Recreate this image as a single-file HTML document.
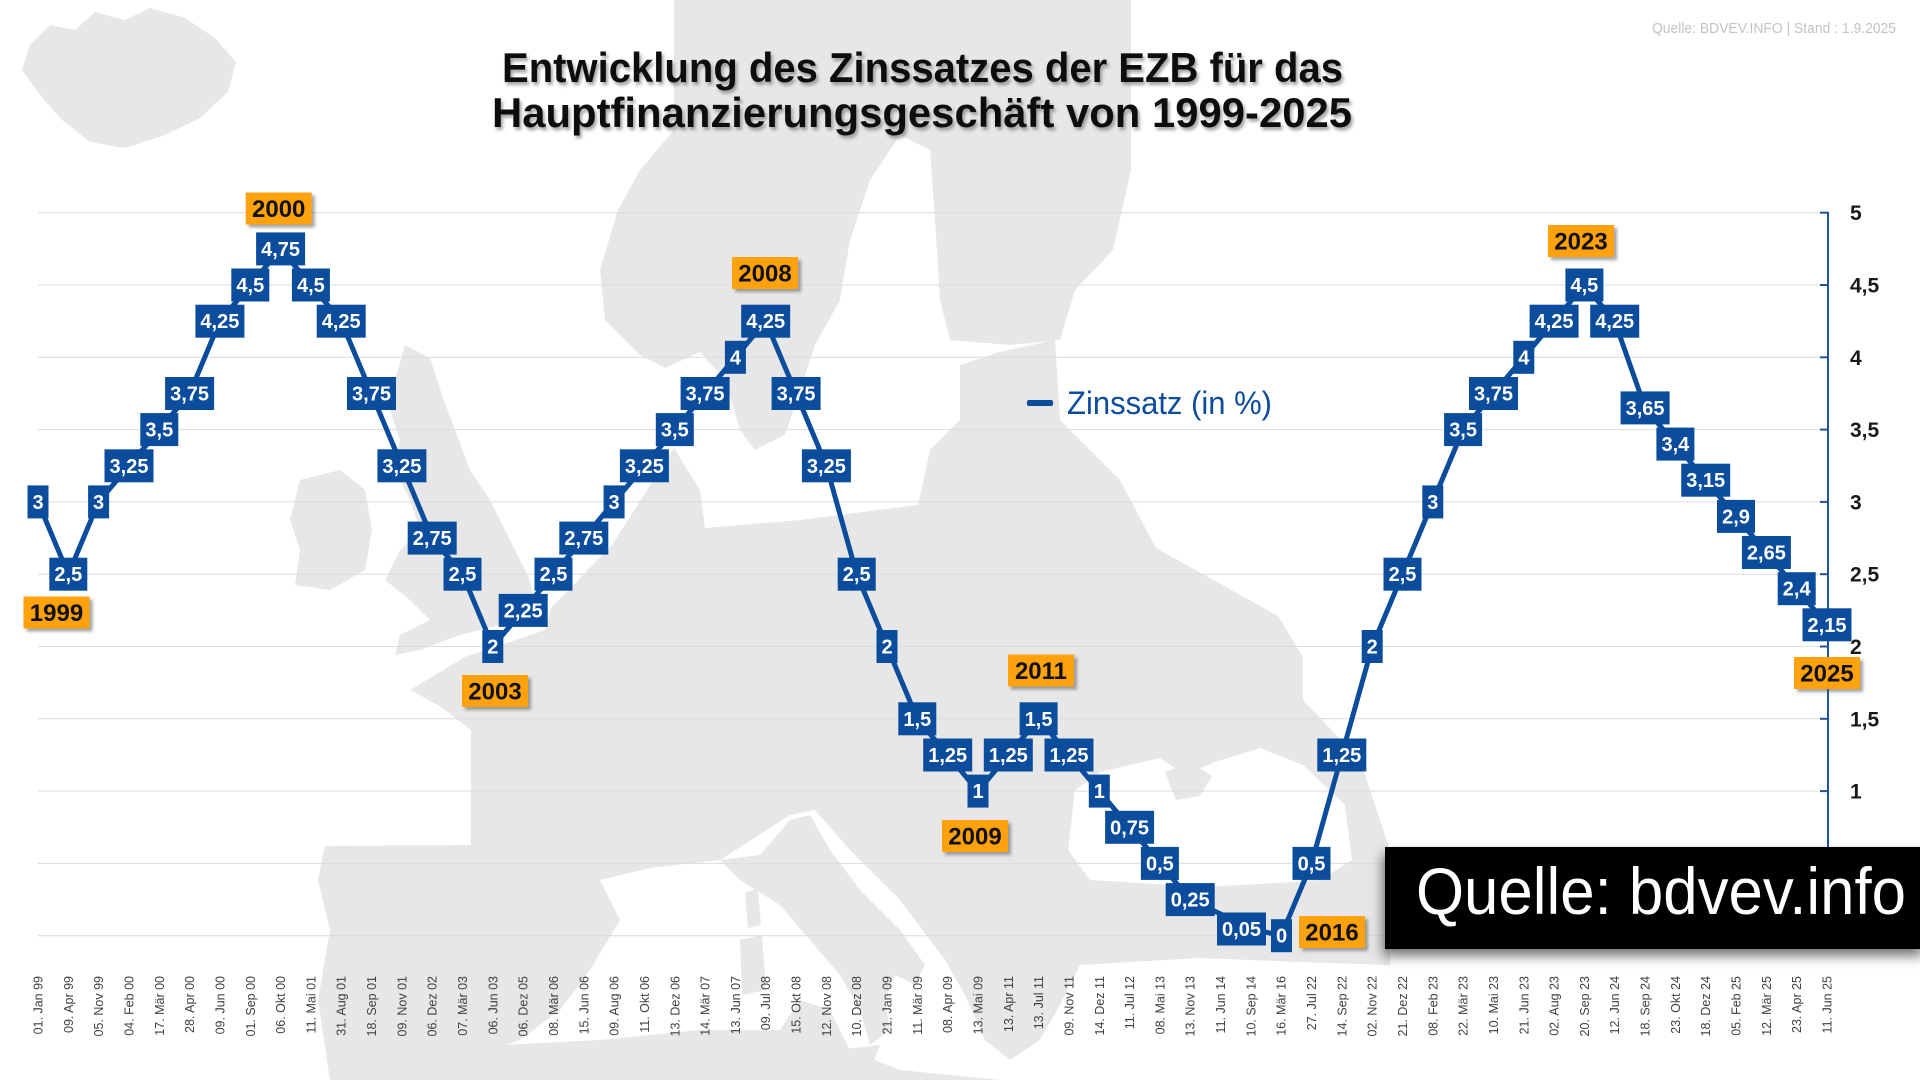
<!DOCTYPE html>
<html><head><meta charset="utf-8"><style>
html,body{margin:0;padding:0;background:#fff;}
svg{display:block;}
.b{fill:#0b4c9c;}
.t{fill:#fff;font:bold 20px "Liberation Sans",sans-serif;text-anchor:middle;}
.o{fill:#ffa20c;}
.ot{fill:#111;font:bold 24px "Liberation Sans",sans-serif;text-anchor:middle;}
.xl{fill:#404040;font:12.5px "Liberation Sans",sans-serif;text-anchor:end;}
.yl{fill:#1a1a1a;font:bold 21px "Liberation Sans",sans-serif;}
.g{stroke:#dcdcdc;stroke-width:1;}
.m{fill:#e7e7e7;}
.w{fill:#fff;}
</style></head><body>
<svg width="1920" height="1080" viewBox="0 0 1920 1080" xmlns="http://www.w3.org/2000/svg">
<defs>
<filter id="sh" x="-20%" y="-20%" width="140%" height="160%"><feDropShadow dx="3" dy="3" stdDeviation="1.5" flood-color="#555" flood-opacity="0.55"/></filter>
<filter id="tsh" x="-5%" y="-20%" width="110%" height="150%"><feDropShadow dx="2" dy="3" stdDeviation="1.5" flood-color="#666" flood-opacity="0.6"/></filter>
<filter id="bsh" x="-10%" y="-30%" width="120%" height="170%"><feDropShadow dx="-2" dy="7" stdDeviation="6" flood-color="#000" flood-opacity="0.55"/></filter>
</defs>
<rect width="1920" height="1080" fill="#fff"/>
<!-- map -->
<g>
<polygon class="m" points="30,45 50,25 75,30 95,12 125,20 150,8 185,18 215,38 236,62 228,92 200,118 165,135 125,148 90,142 62,120 40,95 22,70"/>
<polygon class="m" points="674,0 674,130 640,170 618,210 600,270 605,320 640,355 665,368 700,352 725,380 740,430 755,450 785,435 800,390 815,345 840,300 850,240 870,180 900,135 930,150 935,220 940,300 950,340 1010,345 1060,340 1075,290 1113,250 1131,170 1131,0"/>
<polygon class="m" points="674,448 700,490 705,528 800,520 918,505 930,450 960,420 960,365 1000,352 1055,340 1060,420 1090,450 1120,480 1156,548 1278,616 1303,657 1303,700 1360,760 1390,850 1390,1080 330,1080 318,1000 330,930 318,880 325,846 471,845 471,730 440,706 410,690 465,657 545,630 551,608 612,545 660,470"/>
<polygon class="w" points="1075,790 1100,772 1160,758 1185,775 1215,762 1260,748 1303,765 1345,805 1352,860 1320,880 1260,884 1200,887 1140,883 1090,880 1068,850"/>
<polygon class="m" points="1165,772 1190,762 1212,776 1200,796 1176,800"/>
<polygon class="w" points="460,1062 520,1040 560,1010 590,970 620,920 600,880 650,868 720,860 790,815 815,810 850,850 900,900 945,960 965,995 985,1040 1010,1060 1040,1040 1060,1005 1080,965 1200,958 1300,962 1390,965 1390,1080 460,1080"/>
<polygon class="m" points="404,1080 420,1050 500,1045 600,1040 700,1030 780,1030 800,1000 830,1010 850,1050 900,1070 1000,1080"/>
<polygon class="m" points="720,860 760,855 790,820 810,815 830,850 860,890 900,930 925,965 915,985 895,975 885,1000 890,1030 870,1045 860,1010 840,975 810,940 780,905 740,880"/>
<polygon class="m" points="835,1050 880,1045 870,1072 840,1068"/>
<polygon class="m" points="740,940 762,935 766,990 742,995"/>
<polygon class="m" points="745,893 758,888 761,925 748,928"/>
<polygon class="m" points="405,345 430,358 442,395 455,430 470,470 490,500 510,540 530,580 535,610 500,625 460,635 420,650 395,655 400,635 430,620 410,600 385,580 400,550 420,530 410,500 395,470 400,440 390,410 395,380"/>
<polygon class="m" points="300,480 340,470 365,490 372,530 365,570 330,590 295,585 300,550 290,520"/>
</g>
<!-- title -->
<g filter="url(#tsh)" style="font:bold 42px 'Liberation Sans',sans-serif;fill:#111;">
<text x="502" y="82" textLength="841" lengthAdjust="spacingAndGlyphs">Entwicklung des Zinssatzes der EZB für das</text>
<text x="492" y="127" textLength="860" lengthAdjust="spacingAndGlyphs">Hauptfinanzierungsgeschäft von 1999-2025</text>
</g>
<text x="1652" y="33" textLength="244" lengthAdjust="spacingAndGlyphs" style="font:15px 'Liberation Sans',sans-serif;fill:#c3c3c3;">Quelle: BDVEV.INFO | Stand : 1.9.2025</text>
<!-- grid -->
<g class="g">
<line x1="38" x2="1828" y1="212.7" y2="212.7"/>
<line x1="38" x2="1828" y1="285" y2="285"/>
<line x1="38" x2="1828" y1="357.3" y2="357.3"/>
<line x1="38" x2="1828" y1="429.6" y2="429.6"/>
<line x1="38" x2="1828" y1="501.9" y2="501.9"/>
<line x1="38" x2="1828" y1="574.2" y2="574.2"/>
<line x1="38" x2="1828" y1="646.5" y2="646.5"/>
<line x1="38" x2="1828" y1="718.8" y2="718.8"/>
<line x1="38" x2="1828" y1="791.1" y2="791.1"/>
<line x1="38" x2="1828" y1="863.4" y2="863.4"/>
<line x1="38" x2="1828" y1="935.7" y2="935.7"/>
</g>
<!-- right axis -->
<g stroke="#1f5596" stroke-width="2">
<line x1="1828" x2="1828" y1="211.7" y2="936.7"/>
<line x1="1820" x2="1828" y1="212.7" y2="212.7"/>
<line x1="1820" x2="1828" y1="285" y2="285"/>
<line x1="1820" x2="1828" y1="357.3" y2="357.3"/>
<line x1="1820" x2="1828" y1="429.6" y2="429.6"/>
<line x1="1820" x2="1828" y1="501.9" y2="501.9"/>
<line x1="1820" x2="1828" y1="574.2" y2="574.2"/>
<line x1="1820" x2="1828" y1="646.5" y2="646.5"/>
<line x1="1820" x2="1828" y1="718.8" y2="718.8"/>
<line x1="1820" x2="1828" y1="791.1" y2="791.1"/>
<line x1="1820" x2="1828" y1="863.4" y2="863.4"/>
<line x1="1820" x2="1828" y1="935.7" y2="935.7"/>
</g>
<g class="yl">
<text x="1850" y="220.2">5</text>
<text x="1850" y="292.5">4,5</text>
<text x="1850" y="364.8">4</text>
<text x="1850" y="437.1">3,5</text>
<text x="1850" y="509.4">3</text>
<text x="1850" y="581.7">2,5</text>
<text x="1850" y="654">2</text>
<text x="1850" y="726.3">1,5</text>
<text x="1850" y="798.6">1</text>
<text x="1850" y="870.9">0,5</text>
<text x="1850" y="943.2">0</text>
</g>
<!-- legend -->
<rect x="1027" y="400" width="26" height="6" rx="2" fill="#0b4c9c"/>
<text x="1067" y="414" textLength="205" lengthAdjust="spacingAndGlyphs" style="font:32px 'Liberation Sans',sans-serif;fill:#0b4c9c;">Zinssatz (in %)</text>
<!-- line -->
<polyline fill="none" stroke="#0b4c9c" stroke-width="5" stroke-linejoin="round" points="38,501.9 68.3,574.2 98.6,501.9 129,465.8 159.3,429.6 189.6,393.5 219.9,321.2 250.3,285 280.6,248.9 310.9,285 341.2,321.2 371.5,393.5 401.9,465.8 432.2,538.1 462.5,574.2 492.8,646.5 523.2,610.4 553.5,574.2 583.8,538.1 614.1,501.9 644.4,465.8 674.8,429.6 705.1,393.5 735.4,357.3 765.7,321.2 796.1,393.5 826.4,465.8 856.7,574.2 887,646.5 917.3,718.8 947.7,755 978,791.1 1008.3,755 1038.6,718.8 1069,755 1099.3,791.1 1129.6,827.3 1159.9,863.4 1190.2,899.6 1220.6,914 1250.9,928.5 1281.2,935.7 1311.5,863.4 1341.8,755 1372.2,646.5 1402.5,574.2 1432.8,501.9 1463.1,429.6 1493.5,393.5 1523.8,357.3 1554.1,321.2 1584.4,285 1614.7,321.2 1645.1,407.9 1675.4,444.1 1705.7,480.2 1736,516.4 1766.4,552.5 1796.7,588.7 1827,624.8"/>
<!-- data labels -->
<g>
<rect class="b" x="27.5" y="485.4" width="21" height="33"/><text class="t" x="38" y="508.9">3</text>
<rect class="b" x="49.3" y="557.7" width="38" height="33"/><text class="t" x="68.3" y="581.2">2,5</text>
<rect class="b" x="88.1" y="485.4" width="21" height="33"/><text class="t" x="98.6" y="508.9">3</text>
<rect class="b" x="104.5" y="449.3" width="49" height="33"/><text class="t" x="129" y="472.8">3,25</text>
<rect class="b" x="140.3" y="413.1" width="38" height="33"/><text class="t" x="159.3" y="436.6">3,5</text>
<rect class="b" x="165.1" y="377" width="49" height="33"/><text class="t" x="189.6" y="400.5">3,75</text>
<rect class="b" x="195.4" y="304.7" width="49" height="33"/><text class="t" x="219.9" y="328.2">4,25</text>
<rect class="b" x="231.3" y="268.5" width="38" height="33"/><text class="t" x="250.3" y="292">4,5</text>
<rect class="b" x="256.1" y="232.4" width="49" height="33"/><text class="t" x="280.6" y="255.9">4,75</text>
<rect class="b" x="291.9" y="268.5" width="38" height="33"/><text class="t" x="310.9" y="292">4,5</text>
<rect class="b" x="316.7" y="304.7" width="49" height="33"/><text class="t" x="341.2" y="328.2">4,25</text>
<rect class="b" x="347" y="377" width="49" height="33"/><text class="t" x="371.5" y="400.5">3,75</text>
<rect class="b" x="377.4" y="449.3" width="49" height="33"/><text class="t" x="401.9" y="472.8">3,25</text>
<rect class="b" x="407.7" y="521.6" width="49" height="33"/><text class="t" x="432.2" y="545.1">2,75</text>
<rect class="b" x="443.5" y="557.7" width="38" height="33"/><text class="t" x="462.5" y="581.2">2,5</text>
<rect class="b" x="482.3" y="630" width="21" height="33"/><text class="t" x="492.8" y="653.5">2</text>
<rect class="b" x="498.7" y="593.9" width="49" height="33"/><text class="t" x="523.2" y="617.4">2,25</text>
<rect class="b" x="534.5" y="557.7" width="38" height="33"/><text class="t" x="553.5" y="581.2">2,5</text>
<rect class="b" x="559.3" y="521.6" width="49" height="33"/><text class="t" x="583.8" y="545.1">2,75</text>
<rect class="b" x="603.6" y="485.4" width="21" height="33"/><text class="t" x="614.1" y="508.9">3</text>
<rect class="b" x="619.9" y="449.3" width="49" height="33"/><text class="t" x="644.4" y="472.8">3,25</text>
<rect class="b" x="655.8" y="413.1" width="38" height="33"/><text class="t" x="674.8" y="436.6">3,5</text>
<rect class="b" x="680.6" y="377" width="49" height="33"/><text class="t" x="705.1" y="400.5">3,75</text>
<rect class="b" x="724.9" y="340.8" width="21" height="33"/><text class="t" x="735.4" y="364.3">4</text>
<rect class="b" x="741.2" y="304.7" width="49" height="33"/><text class="t" x="765.7" y="328.2">4,25</text>
<rect class="b" x="771.6" y="377" width="49" height="33"/><text class="t" x="796.1" y="400.5">3,75</text>
<rect class="b" x="801.9" y="449.3" width="49" height="33"/><text class="t" x="826.4" y="472.8">3,25</text>
<rect class="b" x="837.7" y="557.7" width="38" height="33"/><text class="t" x="856.7" y="581.2">2,5</text>
<rect class="b" x="876.5" y="630" width="21" height="33"/><text class="t" x="887" y="653.5">2</text>
<rect class="b" x="898.3" y="702.3" width="38" height="33"/><text class="t" x="917.3" y="725.8">1,5</text>
<rect class="b" x="923.2" y="738.5" width="49" height="33"/><text class="t" x="947.7" y="762">1,25</text>
<rect class="b" x="967.5" y="774.6" width="21" height="33"/><text class="t" x="978" y="798.1">1</text>
<rect class="b" x="983.8" y="738.5" width="49" height="33"/><text class="t" x="1008.3" y="762">1,25</text>
<rect class="b" x="1019.6" y="702.3" width="38" height="33"/><text class="t" x="1038.6" y="725.8">1,5</text>
<rect class="b" x="1044.5" y="738.5" width="49" height="33"/><text class="t" x="1069" y="762">1,25</text>
<rect class="b" x="1088.8" y="774.6" width="21" height="33"/><text class="t" x="1099.3" y="798.1">1</text>
<rect class="b" x="1105.1" y="810.8" width="49" height="33"/><text class="t" x="1129.6" y="834.3">0,75</text>
<rect class="b" x="1140.9" y="846.9" width="38" height="33"/><text class="t" x="1159.9" y="870.4">0,5</text>
<rect class="b" x="1165.7" y="883.1" width="49" height="33"/><text class="t" x="1190.2" y="906.6">0,25</text>
<rect class="b" x="1217" y="912.5" width="49" height="33"/><text class="t" x="1241.5" y="936">0,05</text>
<rect class="b" x="1271" y="919.2" width="21" height="33"/><text class="t" x="1281.5" y="942.7">0</text>
<rect class="b" x="1292.5" y="846.9" width="38" height="33"/><text class="t" x="1311.5" y="870.4">0,5</text>
<rect class="b" x="1317.3" y="738.5" width="49" height="33"/><text class="t" x="1341.8" y="762">1,25</text>
<rect class="b" x="1361.7" y="630" width="21" height="33"/><text class="t" x="1372.2" y="653.5">2</text>
<rect class="b" x="1383.5" y="557.7" width="38" height="33"/><text class="t" x="1402.5" y="581.2">2,5</text>
<rect class="b" x="1422.3" y="485.4" width="21" height="33"/><text class="t" x="1432.8" y="508.9">3</text>
<rect class="b" x="1444.1" y="413.1" width="38" height="33"/><text class="t" x="1463.1" y="436.6">3,5</text>
<rect class="b" x="1469" y="377" width="49" height="33"/><text class="t" x="1493.5" y="400.5">3,75</text>
<rect class="b" x="1513.3" y="340.8" width="21" height="33"/><text class="t" x="1523.8" y="364.3">4</text>
<rect class="b" x="1529.6" y="304.7" width="49" height="33"/><text class="t" x="1554.1" y="328.2">4,25</text>
<rect class="b" x="1565.4" y="268.5" width="38" height="33"/><text class="t" x="1584.4" y="292">4,5</text>
<rect class="b" x="1590.2" y="304.7" width="49" height="33"/><text class="t" x="1614.7" y="328.2">4,25</text>
<rect class="b" x="1620.6" y="391.4" width="49" height="33"/><text class="t" x="1645.1" y="414.9">3,65</text>
<rect class="b" x="1656.4" y="427.6" width="38" height="33"/><text class="t" x="1675.4" y="451.1">3,4</text>
<rect class="b" x="1681.2" y="463.7" width="49" height="33"/><text class="t" x="1705.7" y="487.2">3,15</text>
<rect class="b" x="1717" y="499.9" width="38" height="33"/><text class="t" x="1736" y="523.4">2,9</text>
<rect class="b" x="1741.9" y="536" width="49" height="33"/><text class="t" x="1766.4" y="559.5">2,65</text>
<rect class="b" x="1777.7" y="572.2" width="38" height="33"/><text class="t" x="1796.7" y="595.7">2,4</text>
<rect class="b" x="1802.5" y="608.3" width="49" height="33"/><text class="t" x="1827" y="631.8">2,15</text>
</g>
<!-- year labels -->
<g>
<rect class="o" filter="url(#sh)" x="23.5" y="596.5" width="66" height="32"/><text class="ot" x="56.5" y="621">1999</text>
<rect class="o" filter="url(#sh)" x="245.7" y="192.5" width="66" height="32"/><text class="ot" x="278.7" y="217">2000</text>
<rect class="o" filter="url(#sh)" x="462" y="675" width="66" height="32"/><text class="ot" x="495" y="699.5">2003</text>
<rect class="o" filter="url(#sh)" x="732" y="257" width="66" height="32"/><text class="ot" x="765" y="281.5">2008</text>
<rect class="o" filter="url(#sh)" x="942" y="820" width="66" height="32"/><text class="ot" x="975" y="844.5">2009</text>
<rect class="o" filter="url(#sh)" x="1008" y="654.5" width="66" height="32"/><text class="ot" x="1041" y="679">2011</text>
<rect class="o" filter="url(#sh)" x="1299" y="916" width="66" height="32"/><text class="ot" x="1332" y="940.5">2016</text>
<rect class="o" filter="url(#sh)" x="1548" y="225" width="66" height="32"/><text class="ot" x="1581" y="249.5">2023</text>
<rect class="o" filter="url(#sh)" x="1794" y="657" width="66" height="32"/><text class="ot" x="1827" y="681.5">2025</text>
</g>
<!-- source box -->
<rect x="1385" y="847" width="540" height="102" fill="#000" filter="url(#bsh)"/>
<text x="1416" y="914" textLength="490" lengthAdjust="spacingAndGlyphs" style="font:66px 'Liberation Sans',sans-serif;fill:#fff;">Quelle: bdvev.info</text>
<!-- x labels -->
<g class="xl">
<text transform="translate(42.5,976) rotate(-90)">01. Jan 99</text>
<text transform="translate(72.8,976) rotate(-90)">09. Apr 99</text>
<text transform="translate(103.1,976) rotate(-90)">05. Nov 99</text>
<text transform="translate(133.5,976) rotate(-90)">04. Feb 00</text>
<text transform="translate(163.8,976) rotate(-90)">17. Mär 00</text>
<text transform="translate(194.1,976) rotate(-90)">28. Apr 00</text>
<text transform="translate(224.4,976) rotate(-90)">09. Jun 00</text>
<text transform="translate(254.8,976) rotate(-90)">01. Sep 00</text>
<text transform="translate(285.1,976) rotate(-90)">06. Okt 00</text>
<text transform="translate(315.4,976) rotate(-90)">11. Mai 01</text>
<text transform="translate(345.7,976) rotate(-90)">31. Aug 01</text>
<text transform="translate(376,976) rotate(-90)">18. Sep 01</text>
<text transform="translate(406.4,976) rotate(-90)">09. Nov 01</text>
<text transform="translate(436.7,976) rotate(-90)">06. Dez 02</text>
<text transform="translate(467,976) rotate(-90)">07. Mär 03</text>
<text transform="translate(497.3,976) rotate(-90)">06. Jun 03</text>
<text transform="translate(527.7,976) rotate(-90)">06. Dez 05</text>
<text transform="translate(558,976) rotate(-90)">08. Mär 06</text>
<text transform="translate(588.3,976) rotate(-90)">15. Jun 06</text>
<text transform="translate(618.6,976) rotate(-90)">09. Aug 06</text>
<text transform="translate(648.9,976) rotate(-90)">11. Okt 06</text>
<text transform="translate(679.3,976) rotate(-90)">13. Dez 06</text>
<text transform="translate(709.6,976) rotate(-90)">14. Mär 07</text>
<text transform="translate(739.9,976) rotate(-90)">13. Jun 07</text>
<text transform="translate(770.2,976) rotate(-90)">09. Jul 08</text>
<text transform="translate(800.6,976) rotate(-90)">15. Okt 08</text>
<text transform="translate(830.9,976) rotate(-90)">12. Nov 08</text>
<text transform="translate(861.2,976) rotate(-90)">10. Dez 08</text>
<text transform="translate(891.5,976) rotate(-90)">21. Jan 09</text>
<text transform="translate(921.8,976) rotate(-90)">11. Mär 09</text>
<text transform="translate(952.2,976) rotate(-90)">08. Apr 09</text>
<text transform="translate(982.5,976) rotate(-90)">13. Mai 09</text>
<text transform="translate(1012.8,976) rotate(-90)">13. Apr 11</text>
<text transform="translate(1043.1,976) rotate(-90)">13. Jul 11</text>
<text transform="translate(1073.5,976) rotate(-90)">09. Nov 11</text>
<text transform="translate(1103.8,976) rotate(-90)">14. Dez 11</text>
<text transform="translate(1134.1,976) rotate(-90)">11. Jul 12</text>
<text transform="translate(1164.4,976) rotate(-90)">08. Mai 13</text>
<text transform="translate(1194.7,976) rotate(-90)">13. Nov 13</text>
<text transform="translate(1225.1,976) rotate(-90)">11. Jun 14</text>
<text transform="translate(1255.4,976) rotate(-90)">10. Sep 14</text>
<text transform="translate(1285.7,976) rotate(-90)">16. Mär 16</text>
<text transform="translate(1316,976) rotate(-90)">27. Jul 22</text>
<text transform="translate(1346.3,976) rotate(-90)">14. Sep 22</text>
<text transform="translate(1376.7,976) rotate(-90)">02. Nov 22</text>
<text transform="translate(1407,976) rotate(-90)">21. Dez 22</text>
<text transform="translate(1437.3,976) rotate(-90)">08. Feb 23</text>
<text transform="translate(1467.6,976) rotate(-90)">22. Mär 23</text>
<text transform="translate(1498,976) rotate(-90)">10. Mai 23</text>
<text transform="translate(1528.3,976) rotate(-90)">21. Jun 23</text>
<text transform="translate(1558.6,976) rotate(-90)">02. Aug 23</text>
<text transform="translate(1588.9,976) rotate(-90)">20. Sep 23</text>
<text transform="translate(1619.2,976) rotate(-90)">12. Jun 24</text>
<text transform="translate(1649.6,976) rotate(-90)">18. Sep 24</text>
<text transform="translate(1679.9,976) rotate(-90)">23. Okt 24</text>
<text transform="translate(1710.2,976) rotate(-90)">18. Dez 24</text>
<text transform="translate(1740.5,976) rotate(-90)">05. Feb 25</text>
<text transform="translate(1770.9,976) rotate(-90)">12. Mär 25</text>
<text transform="translate(1801.2,976) rotate(-90)">23. Apr 25</text>
<text transform="translate(1831.5,976) rotate(-90)">11. Jun 25</text>
</g>
</svg>
</body></html>
